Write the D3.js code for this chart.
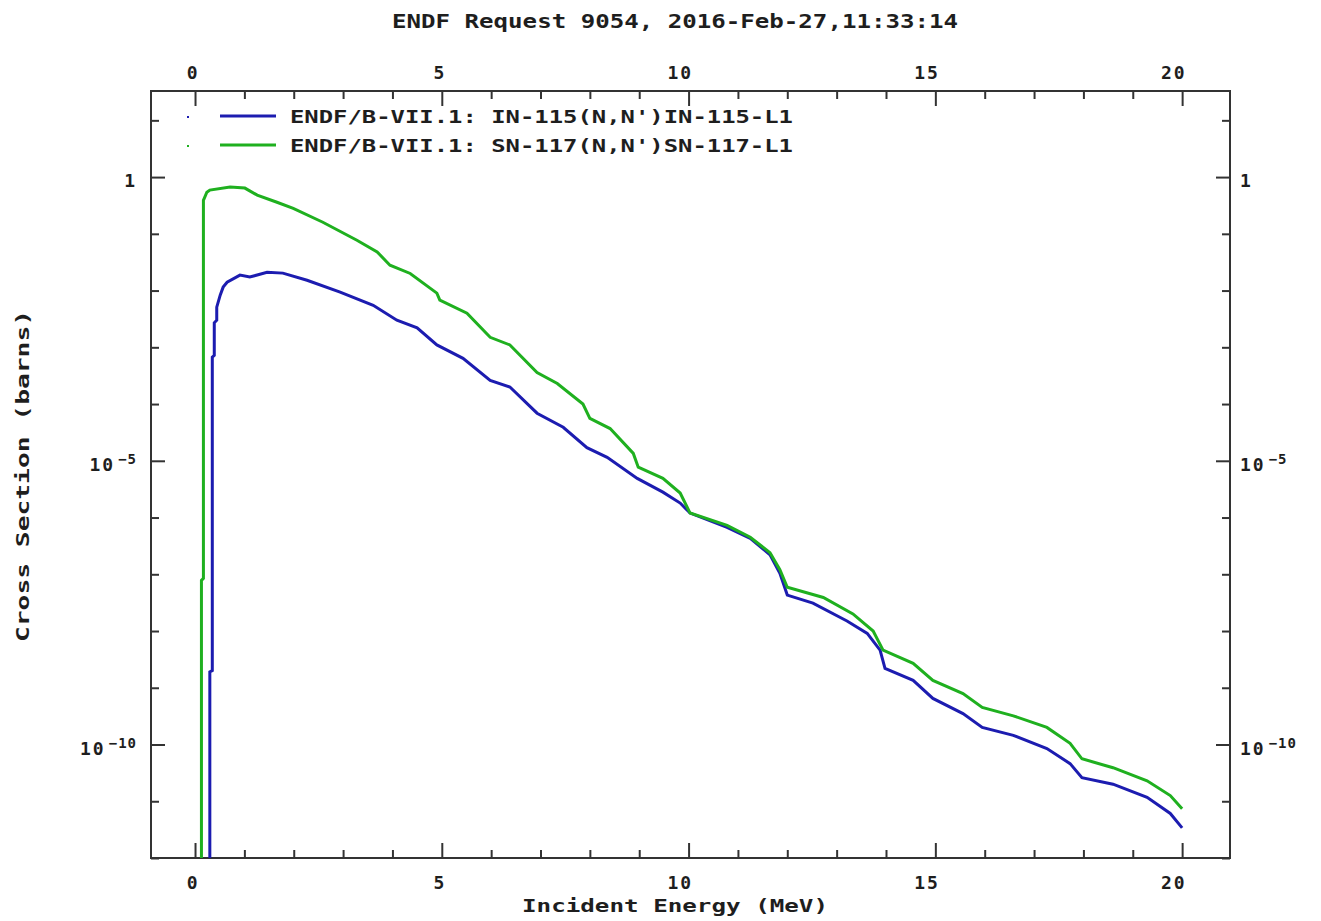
<!DOCTYPE html>
<html>
<head>
<meta charset="utf-8">
<script src="https://cdn.jsdelivr.net/npm/d3@7"></script>
<style>
  body { margin: 0; background: #fff; }
  text { font-family: "DejaVu Sans Mono", "Liberation Mono", monospace; font-weight: bold; fill: #1e1e1e; }
  .tick line { stroke: #333; stroke-width: 2px; }
  .tick text { font-size: 18px; letter-spacing: 2px; }
</style>
</head>
<body>
<svg width="1321" height="921"></svg>
<script>
const title = "ENDF Request 9054, 2016-Feb-27,11:33:14";
const xAxisLabel = "Incident Energy (MeV)";
const yAxisLabel = "Cross Section (barns)";
const seriesNames = [
  "ENDF/B-VII.1: IN-115(N,N')IN-115-L1",
  "ENDF/B-VII.1: SN-117(N,N')SN-117-L1"
];
const seriesColors = ["#1c1cb0", "#1fb01f"];

const xMajorTicks = [0, 5, 10, 15, 20];
const xMinorTicks = [1, 2, 3, 4, 6, 7, 8, 9, 11, 12, 13, 14, 16, 17, 18, 19];
const yMajorTicks = [1e-10, 1e-5, 1];
const yMinorTicks = [1e-12, 1e-11, 1e-9, 1e-8, 1e-7, 1e-6, 1e-4, 1e-3, 1e-2, 1e-1, 1e1];

// IN-115(n,n')IN-115m, energy in MeV, cross section in barns
const inEnergy = [0.30, 0.30, 0.35, 0.35, 0.39, 0.39, 0.44, 0.44, 0.51, 0.57,
  0.65, 0.91, 1.11, 1.46, 1.78, 2.27, 2.94, 3.61, 4.09, 4.50,
  4.90, 5.43, 5.98, 6.38, 6.93, 7.46, 7.94, 8.35, 8.96, 9.48,
  9.83, 10.03, 10.78, 11.25, 11.65, 11.85, 12.00, 12.52, 13.21, 13.62,
  13.88, 13.98, 14.55, 14.95, 15.56, 15.95, 16.58, 17.26, 17.73, 17.97,
  18.60, 19.29, 19.76, 20.00];
const inXs = [1e-13, 1.9e-9, 2.0e-9, 6.7e-4, 7.2e-4, 2.7e-3, 3.0e-3, 5.1e-3, 8.3e-3, 1.15e-2,
  1.4e-2, 1.87e-2, 1.73e-2, 2.1e-2, 2.03e-2, 1.52e-2, 9.4e-3, 5.5e-3, 3.0e-3, 2.2e-3,
  1.1e-3, 6.4e-4, 2.6e-4, 2.0e-4, 6.9e-5, 3.9e-5, 1.7e-5, 1.15e-5, 4.9e-6, 2.8e-6,
  1.8e-6, 1.2e-6, 6.7e-7, 4.3e-7, 2.2e-7, 1.04e-7, 4.3e-8, 3.1e-8, 1.5e-8, 9.1e-9,
  4.6e-9, 2.2e-9, 1.35e-9, 6.5e-10, 3.5e-10, 2.0e-10, 1.45e-10, 8.5e-11, 4.6e-11, 2.6e-11,
  2.0e-11, 1.17e-11, 6.1e-12, 3.4e-12];

// SN-117(n,n')SN-117m
const snEnergy = [0.13, 0.13, 0.17, 0.17, 0.24, 0.30, 0.71, 1.01, 1.26, 1.66,
  1.99, 2.59, 3.28, 3.69, 3.95, 4.36, 4.90, 4.96, 5.51, 5.98,
  6.38, 6.93, 7.34, 7.86, 8.00, 8.41, 8.88, 8.98, 9.48, 9.83,
  10.03, 10.78, 11.25, 11.65, 11.85, 12.00, 12.73, 13.33, 13.74, 13.94,
  14.55, 14.95, 15.56, 15.95, 16.58, 17.26, 17.73, 17.97, 18.60, 19.29,
  19.76, 20.00];
const snXs = [1e-13, 7.8e-8, 8.5e-8, 0.39, 0.54, 0.59, 0.67, 0.64, 0.48, 0.36,
  0.28, 0.16, 0.077, 0.048, 0.028, 0.020, 9.0e-3, 6.8e-3, 4.0e-3, 1.5e-3,
  1.1e-3, 3.6e-4, 2.3e-4, 1.0e-4, 5.6e-5, 3.7e-5, 1.35e-5, 7.7e-6, 4.9e-6, 2.7e-6,
  1.2e-6, 7.3e-7, 4.5e-7, 2.4e-7, 1.2e-7, 5.9e-8, 3.9e-8, 2.0e-8, 1.0e-8, 4.6e-9,
  2.7e-9, 1.35e-9, 7.9e-10, 4.5e-10, 3.2e-10, 2.0e-10, 1.05e-10, 5.6e-11, 3.9e-11, 2.3e-11,
  1.26e-11, 7.4e-12];

const svg = d3.select('svg');
const width = +svg.attr('width');
const height = +svg.attr('height');
const margin = { top: 91, right: 91, bottom: 63, left: 151 };
const innerWidth = width - margin.left - margin.right;
const innerHeight = height - margin.top - margin.bottom;

const xScale = d3.scaleLinear()
  .domain([-0.892, 20.97])
  .range([0, innerWidth]);

const yScale = d3.scaleLog()
  .domain([1e-12, Math.pow(10, 1.517)])
  .range([innerHeight, 0]);

const series = [
  inEnergy.map((e, i) => ({ e: e, xs: inXs[i] })),
  snEnergy.map((e, i) => ({ e: e, xs: snXs[i] }))
];

const g = svg.append('g')
  .attr('transform', `translate(${margin.left}, ${margin.top})`);

g.append('clipPath').attr('id', 'plot-clip')
  .append('rect').attr('width', innerWidth).attr('height', innerHeight);

// superscript labels like 10^-5
const powerLabel = sel => sel.each(function(d) {
  const t = d3.select(this).text('');
  const p = Math.round(Math.log10(d));
  if (p === 0) { t.text('1'); return; }
  t.append('tspan').text('10');
  t.append('tspan').attr('dx', 3).attr('dy', -7)
    .style('font-size', '14px').style('letter-spacing', '1px')
    .text('\u2212' + (-p));
});

// drop the axis line and the empty minor labels
const noDomain = a => a.select('.domain').remove();
const noLabels = a => a.selectAll('text').remove();

// minor ticks
g.append('g').attr('transform', `translate(0, ${innerHeight})`)
  .call(d3.axisBottom(xScale).tickValues(xMinorTicks).tickSize(-8))
  .call(noDomain).call(noLabels);
g.append('g')
  .call(d3.axisTop(xScale).tickValues(xMinorTicks).tickSize(-8))
  .call(noDomain).call(noLabels);
g.append('g')
  .call(d3.axisLeft(yScale).tickValues(yMinorTicks).tickSize(-8))
  .call(noDomain).call(noLabels);
g.append('g').attr('transform', `translate(${innerWidth}, 0)`)
  .call(d3.axisRight(yScale).tickValues(yMinorTicks).tickSize(-8))
  .call(noDomain).call(noLabels);

// major ticks with labels
g.append('g').attr('transform', `translate(0, ${innerHeight})`)
  .call(d3.axisBottom(xScale).tickValues(xMajorTicks).tickSize(-15).tickPadding(18))
  .call(noDomain)
  .selectAll('text').attr('text-anchor', 'end').attr('dx', 4);
g.append('g')
  .call(d3.axisTop(xScale).tickValues(xMajorTicks).tickSize(-15).tickPadding(12))
  .call(noDomain)
  .selectAll('text').attr('text-anchor', 'end').attr('dx', 4);
g.append('g')
  .call(d3.axisLeft(yScale).tickValues(yMajorTicks).tickSize(-14).tickPadding(14))
  .call(noDomain)
  .selectAll('text').attr('dy', '0.55em').call(powerLabel);
g.append('g').attr('transform', `translate(${innerWidth}, 0)`)
  .call(d3.axisRight(yScale).tickValues(yMajorTicks).tickSize(-14).tickPadding(10))
  .call(noDomain)
  .selectAll('text').attr('dy', '0.55em').call(powerLabel);

// frame
g.append('rect')
  .attr('width', innerWidth)
  .attr('height', innerHeight)
  .attr('fill', 'none')
  .attr('stroke', '#333')
  .attr('stroke-width', 2);

const line = d3.line()
  .x(d => xScale(d.e))
  .y(d => yScale(d.xs));

g.append('g').attr('clip-path', 'url(#plot-clip)')
  .selectAll('path')
  .data(series)
  .join('path')
  .attr('fill', 'none')
  .attr('stroke', (d, i) => seriesColors[i])
  .attr('stroke-width', 3)
  .attr('d', line);

// legend
const legend = svg.append('g');
seriesNames.forEach((name, i) => {
  const y = 116 + i * 29;
  legend.append('rect')
    .attr('x', 187).attr('y', y).attr('width', 2).attr('height', 2)
    .attr('fill', seriesColors[i]);
  legend.append('line')
    .attr('x1', 220).attr('x2', 276)
    .attr('y1', y).attr('y2', y)
    .attr('stroke', seriesColors[i])
    .attr('stroke-width', 3);
  legend.append('text')
    .attr('x', 290).attr('y', y + 7)
    .attr('font-size', 17)
    .attr('textLength', 503)
    .attr('lengthAdjust', 'spacingAndGlyphs')
    .text(name);
});

svg.append('text')
  .attr('x', 675).attr('y', 28)
  .attr('text-anchor', 'middle')
  .attr('font-size', 19)
  .attr('textLength', 566)
  .attr('lengthAdjust', 'spacingAndGlyphs')
  .text(title);

svg.append('text')
  .attr('x', 675).attr('y', 912)
  .attr('text-anchor', 'middle')
  .attr('font-size', 17)
  .attr('textLength', 306)
  .attr('lengthAdjust', 'spacingAndGlyphs')
  .text(xAxisLabel);

svg.append('text')
  .attr('transform', 'translate(29, 476) rotate(-90)')
  .attr('text-anchor', 'middle')
  .attr('font-size', 18)
  .attr('textLength', 332)
  .attr('lengthAdjust', 'spacingAndGlyphs')
  .text(yAxisLabel);
</script>
</body>
</html>
